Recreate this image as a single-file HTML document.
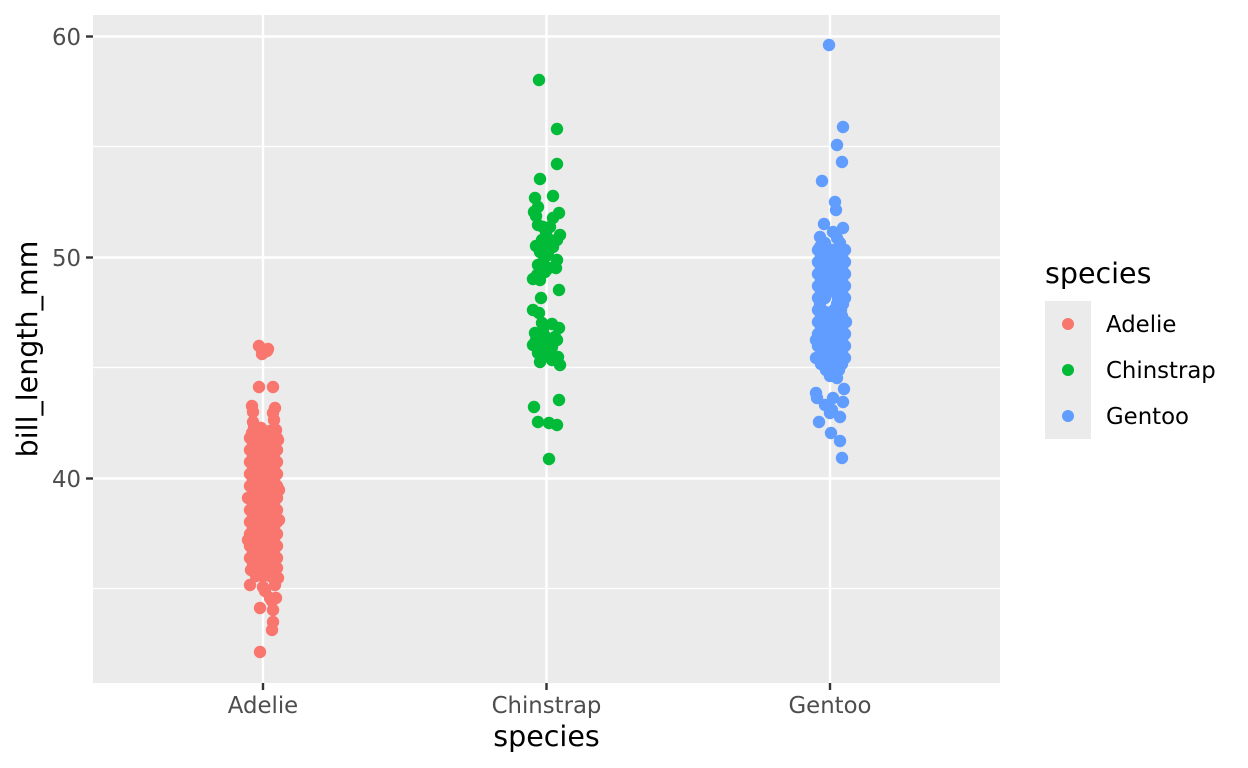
<!DOCTYPE html>
<html>
<head>
<meta charset="utf-8">
<style>
html,body{margin:0;padding:0;background:#fff;}
svg{display:block;}
text{font-family:"DejaVu Sans","Liberation Sans",sans-serif;}
</style>
</head>
<body>
<svg width="1248" height="768" viewBox="0 0 1248 768" xmlns="http://www.w3.org/2000/svg">
<rect x="0" y="0" width="1248" height="768" fill="#ffffff"/>
<!-- panel -->
<rect x="93" y="15" width="907" height="668" fill="#EBEBEB"/>
<!-- minor grid -->
<g stroke="#ffffff" stroke-width="1.2">
<line x1="93" y1="146.5" x2="1000" y2="146.5"/>
<line x1="93" y1="367.5" x2="1000" y2="367.5"/>
<line x1="93" y1="588.5" x2="1000" y2="588.5"/>
</g>
<!-- major grid -->
<g stroke="#ffffff" stroke-width="2.4">
<line x1="93" y1="36.5" x2="1000" y2="36.5"/>
<line x1="93" y1="257.5" x2="1000" y2="257.5"/>
<line x1="93" y1="478.5" x2="1000" y2="478.5"/>
<line x1="263" y1="15" x2="263" y2="683"/>
<line x1="546.5" y1="15" x2="546.5" y2="683"/>
<line x1="830" y1="15" x2="830" y2="683"/>
</g>

<!-- Adelie -->
<g fill="#F8766D">
<circle cx="259" cy="346" r="6.2"/><circle cx="267" cy="351" r="6.2"/><circle cx="262" cy="354" r="6.2"/><circle cx="268" cy="349" r="6.2"/>
<circle cx="259" cy="387" r="6.2"/><circle cx="273" cy="387" r="6.2"/>
<circle cx="252" cy="406" r="6.2"/><circle cx="253" cy="412" r="6.2"/><circle cx="275" cy="408" r="6.2"/><circle cx="273" cy="413" r="6.2"/>
<circle cx="253" cy="422" r="6.2"/><circle cx="274" cy="420" r="6.2"/>
<circle cx="254" cy="428" r="6.2"/><circle cx="261" cy="428" r="6.2"/><circle cx="270" cy="431" r="6.2"/><circle cx="276" cy="430" r="6.2"/>
<circle cx="252" cy="433" r="6.2"/><circle cx="258" cy="433" r="6.2"/><circle cx="265" cy="433" r="6.2"/><circle cx="272" cy="433" r="6.2"/><circle cx="278" cy="440" r="6.2"/>
<!-- core rows -->
<circle cx="250" cy="438" r="6.2"/><circle cx="257" cy="438" r="6.2"/><circle cx="264" cy="438" r="6.2"/><circle cx="271" cy="438" r="6.2"/><circle cx="277" cy="438" r="6.2"/>
<circle cx="253" cy="444" r="6.2"/><circle cx="260" cy="444" r="6.2"/><circle cx="267" cy="444" r="6.2"/><circle cx="274" cy="444" r="6.2"/>
<circle cx="250" cy="450" r="6.2"/><circle cx="257" cy="450" r="6.2"/><circle cx="264" cy="450" r="6.2"/><circle cx="271" cy="450" r="6.2"/><circle cx="277" cy="450" r="6.2"/>
<circle cx="253" cy="456" r="6.2"/><circle cx="260" cy="456" r="6.2"/><circle cx="267" cy="456" r="6.2"/><circle cx="274" cy="456" r="6.2"/>
<circle cx="250" cy="462" r="6.2"/><circle cx="257" cy="462" r="6.2"/><circle cx="264" cy="462" r="6.2"/><circle cx="271" cy="462" r="6.2"/><circle cx="277" cy="462" r="6.2"/>
<circle cx="253" cy="468" r="6.2"/><circle cx="260" cy="468" r="6.2"/><circle cx="267" cy="468" r="6.2"/><circle cx="274" cy="468" r="6.2"/>
<circle cx="250" cy="474" r="6.2"/><circle cx="257" cy="474" r="6.2"/><circle cx="264" cy="474" r="6.2"/><circle cx="271" cy="474" r="6.2"/><circle cx="277" cy="474" r="6.2"/>
<circle cx="253" cy="480" r="6.2"/><circle cx="260" cy="480" r="6.2"/><circle cx="267" cy="480" r="6.2"/><circle cx="274" cy="480" r="6.2"/>
<circle cx="250" cy="486" r="6.2"/><circle cx="257" cy="486" r="6.2"/><circle cx="264" cy="486" r="6.2"/><circle cx="271" cy="486" r="6.2"/><circle cx="277" cy="486" r="6.2"/>
<circle cx="253" cy="492" r="6.2"/><circle cx="260" cy="492" r="6.2"/><circle cx="267" cy="492" r="6.2"/><circle cx="274" cy="492" r="6.2"/><circle cx="279" cy="490" r="6.2"/>
<circle cx="250" cy="498" r="6.2"/><circle cx="257" cy="498" r="6.2"/><circle cx="264" cy="498" r="6.2"/><circle cx="271" cy="498" r="6.2"/><circle cx="277" cy="498" r="6.2"/><circle cx="248" cy="498" r="6.2"/>
<circle cx="253" cy="504" r="6.2"/><circle cx="260" cy="504" r="6.2"/><circle cx="267" cy="504" r="6.2"/><circle cx="274" cy="504" r="6.2"/>
<circle cx="250" cy="510" r="6.2"/><circle cx="257" cy="510" r="6.2"/><circle cx="264" cy="510" r="6.2"/><circle cx="271" cy="510" r="6.2"/><circle cx="277" cy="510" r="6.2"/>
<circle cx="253" cy="516" r="6.2"/><circle cx="260" cy="516" r="6.2"/><circle cx="267" cy="516" r="6.2"/><circle cx="274" cy="516" r="6.2"/><circle cx="279" cy="520" r="6.2"/>
<circle cx="250" cy="522" r="6.2"/><circle cx="257" cy="522" r="6.2"/><circle cx="264" cy="522" r="6.2"/><circle cx="271" cy="522" r="6.2"/><circle cx="277" cy="522" r="6.2"/>
<circle cx="253" cy="528" r="6.2"/><circle cx="260" cy="528" r="6.2"/><circle cx="267" cy="528" r="6.2"/><circle cx="274" cy="528" r="6.2"/>
<circle cx="250" cy="534" r="6.2"/><circle cx="257" cy="534" r="6.2"/><circle cx="264" cy="534" r="6.2"/><circle cx="271" cy="534" r="6.2"/><circle cx="277" cy="534" r="6.2"/>
<circle cx="253" cy="540" r="6.2"/><circle cx="260" cy="540" r="6.2"/><circle cx="267" cy="540" r="6.2"/><circle cx="274" cy="540" r="6.2"/><circle cx="248" cy="540" r="6.2"/>
<circle cx="250" cy="546" r="6.2"/><circle cx="257" cy="546" r="6.2"/><circle cx="264" cy="546" r="6.2"/><circle cx="271" cy="546" r="6.2"/><circle cx="277" cy="546" r="6.2"/>
<circle cx="253" cy="552" r="6.2"/><circle cx="260" cy="552" r="6.2"/><circle cx="267" cy="552" r="6.2"/><circle cx="274" cy="552" r="6.2"/>
<circle cx="250" cy="558" r="6.2"/><circle cx="257" cy="558" r="6.2"/><circle cx="264" cy="558" r="6.2"/><circle cx="271" cy="558" r="6.2"/><circle cx="277" cy="558" r="6.2"/>
<circle cx="253" cy="564" r="6.2"/><circle cx="260" cy="564" r="6.2"/><circle cx="267" cy="564" r="6.2"/><circle cx="274" cy="564" r="6.2"/>
<circle cx="251" cy="570" r="6.2"/><circle cx="258" cy="570" r="6.2"/><circle cx="265" cy="570" r="6.2"/><circle cx="272" cy="570" r="6.2"/><circle cx="277" cy="568" r="6.2"/>
<circle cx="256" cy="576" r="6.2"/><circle cx="263" cy="576" r="6.2"/><circle cx="270" cy="576" r="6.2"/><circle cx="278" cy="578" r="6.2"/>
<!-- bottom sparse -->
<circle cx="250" cy="585" r="6.2"/><circle cx="263" cy="587" r="6.2"/><circle cx="275" cy="585" r="6.2"/><circle cx="265" cy="591" r="6.2"/>
<circle cx="270" cy="598" r="6.2"/><circle cx="276" cy="598" r="6.2"/><circle cx="272" cy="601" r="6.2"/>
<circle cx="260" cy="608" r="6.2"/><circle cx="273" cy="610" r="6.2"/><circle cx="273" cy="622" r="6.2"/><circle cx="272" cy="630" r="6.2"/>
<circle cx="260" cy="652" r="6.2"/>
</g>

<!-- Chinstrap -->
<g fill="#00BA38">
<circle cx="539" cy="80" r="6.2"/><circle cx="557" cy="129" r="6.2"/><circle cx="557" cy="164" r="6.2"/><circle cx="540" cy="179" r="6.2"/>
<circle cx="535" cy="198" r="6.2"/><circle cx="553" cy="196" r="6.2"/><circle cx="534" cy="212" r="6.2"/><circle cx="538" cy="207" r="6.2"/>
<circle cx="559" cy="213" r="6.2"/><circle cx="553" cy="218" r="6.2"/><circle cx="536" cy="216" r="6.2"/>
<circle cx="538" cy="225" r="6.2"/><circle cx="543" cy="227" r="6.2"/><circle cx="550" cy="227" r="6.2"/><circle cx="546" cy="232" r="6.2"/><circle cx="560" cy="235" r="6.2"/>
<circle cx="542" cy="240" r="6.2"/><circle cx="550" cy="240" r="6.2"/><circle cx="557" cy="240" r="6.2"/><circle cx="545" cy="245" r="6.2"/><circle cx="536" cy="246" r="6.2"/><circle cx="553" cy="247" r="6.2"/>
<circle cx="540" cy="252" r="6.2"/><circle cx="548" cy="255" r="6.2"/><circle cx="557" cy="260" r="6.2"/><circle cx="543" cy="262" r="6.2"/><circle cx="538" cy="265" r="6.2"/>
<circle cx="556" cy="268" r="6.2"/><circle cx="549" cy="268" r="6.2"/><circle cx="545" cy="272" r="6.2"/><circle cx="537" cy="275" r="6.2"/><circle cx="533" cy="279" r="6.2"/><circle cx="540" cy="280" r="6.2"/>
<circle cx="559" cy="290" r="6.2"/><circle cx="541" cy="298" r="6.2"/><circle cx="533" cy="310" r="6.2"/><circle cx="539" cy="313" r="6.2"/>
<circle cx="542" cy="323" r="6.2"/><circle cx="552" cy="324" r="6.2"/><circle cx="544" cy="326" r="6.2"/><circle cx="559" cy="328" r="6.2"/>
<circle cx="535" cy="333" r="6.2"/><circle cx="543" cy="332" r="6.2"/><circle cx="555" cy="337" r="6.2"/><circle cx="547" cy="338" r="6.2"/><circle cx="536" cy="340" r="6.2"/><circle cx="557" cy="340" r="6.2"/>
<circle cx="533" cy="345" r="6.2"/><circle cx="542" cy="343" r="6.2"/><circle cx="552" cy="347" r="6.2"/><circle cx="548" cy="350" r="6.2"/><circle cx="538" cy="353" r="6.2"/>
<circle cx="546" cy="356" r="6.2"/><circle cx="558" cy="357" r="6.2"/><circle cx="552" cy="360" r="6.2"/><circle cx="540" cy="362" r="6.2"/><circle cx="560" cy="365" r="6.2"/>
<circle cx="559" cy="400" r="6.2"/><circle cx="534" cy="407" r="6.2"/>
<circle cx="538" cy="422" r="6.2"/><circle cx="549" cy="423" r="6.2"/><circle cx="557" cy="425" r="6.2"/>
<circle cx="549" cy="459" r="6.2"/>
</g>

<!-- Gentoo -->
<g fill="#619CFF">
<circle cx="829" cy="45" r="6.2"/><circle cx="843" cy="127" r="6.2"/><circle cx="837" cy="145" r="6.2"/><circle cx="842" cy="162" r="6.2"/>
<circle cx="822" cy="181" r="6.2"/><circle cx="835" cy="202" r="6.2"/><circle cx="836" cy="210" r="6.2"/>
<circle cx="824" cy="224" r="6.2"/><circle cx="843" cy="228" r="6.2"/><circle cx="833" cy="232" r="6.2"/><circle cx="820" cy="237" r="6.2"/><circle cx="837" cy="238" r="6.2"/>
<circle cx="825" cy="243" r="6.2"/><circle cx="840" cy="243" r="6.2"/><circle cx="820" cy="247" r="6.2"/>
<!-- core -->
<circle cx="818" cy="250" r="6.2"/><circle cx="825" cy="250" r="6.2"/><circle cx="832" cy="250" r="6.2"/><circle cx="839" cy="250" r="6.2"/><circle cx="845" cy="250" r="6.2"/>
<circle cx="821" cy="256" r="6.2"/><circle cx="828" cy="256" r="6.2"/><circle cx="835" cy="256" r="6.2"/><circle cx="842" cy="256" r="6.2"/>
<circle cx="818" cy="262" r="6.2"/><circle cx="825" cy="262" r="6.2"/><circle cx="832" cy="262" r="6.2"/><circle cx="839" cy="262" r="6.2"/><circle cx="845" cy="262" r="6.2"/>
<circle cx="821" cy="268" r="6.2"/><circle cx="828" cy="268" r="6.2"/><circle cx="835" cy="268" r="6.2"/><circle cx="842" cy="268" r="6.2"/>
<circle cx="818" cy="274" r="6.2"/><circle cx="825" cy="274" r="6.2"/><circle cx="832" cy="274" r="6.2"/><circle cx="839" cy="274" r="6.2"/><circle cx="845" cy="274" r="6.2"/>
<circle cx="821" cy="280" r="6.2"/><circle cx="828" cy="280" r="6.2"/><circle cx="835" cy="280" r="6.2"/><circle cx="842" cy="280" r="6.2"/>
<circle cx="818" cy="286" r="6.2"/><circle cx="825" cy="286" r="6.2"/><circle cx="832" cy="286" r="6.2"/><circle cx="839" cy="286" r="6.2"/><circle cx="845" cy="286" r="6.2"/>
<circle cx="821" cy="292" r="6.2"/><circle cx="828" cy="292" r="6.2"/><circle cx="835" cy="292" r="6.2"/><circle cx="842" cy="292" r="6.2"/>
<circle cx="818" cy="298" r="6.2"/><circle cx="825" cy="298" r="6.2"/><circle cx="838" cy="298" r="6.2"/><circle cx="845" cy="298" r="6.2"/>
<circle cx="820" cy="304" r="6.2"/><circle cx="837" cy="304" r="6.2"/><circle cx="843" cy="304" r="6.2"/>
<circle cx="818" cy="310" r="6.2"/><circle cx="825" cy="312" r="6.2"/><circle cx="834" cy="310" r="6.2"/><circle cx="841" cy="310" r="6.2"/>
<circle cx="821" cy="316" r="6.2"/><circle cx="828" cy="316" r="6.2"/><circle cx="835" cy="316" r="6.2"/><circle cx="842" cy="316" r="6.2"/>
<circle cx="818" cy="322" r="6.2"/><circle cx="825" cy="322" r="6.2"/><circle cx="832" cy="322" r="6.2"/><circle cx="839" cy="322" r="6.2"/><circle cx="846" cy="322" r="6.2"/>
<circle cx="821" cy="328" r="6.2"/><circle cx="828" cy="328" r="6.2"/><circle cx="835" cy="328" r="6.2"/><circle cx="842" cy="328" r="6.2"/>
<circle cx="818" cy="334" r="6.2"/><circle cx="825" cy="334" r="6.2"/><circle cx="832" cy="334" r="6.2"/><circle cx="839" cy="334" r="6.2"/><circle cx="845" cy="334" r="6.2"/>
<circle cx="816" cy="340" r="6.2"/><circle cx="828" cy="340" r="6.2"/><circle cx="835" cy="340" r="6.2"/><circle cx="842" cy="340" r="6.2"/>
<circle cx="818" cy="346" r="6.2"/><circle cx="825" cy="346" r="6.2"/><circle cx="832" cy="346" r="6.2"/><circle cx="839" cy="346" r="6.2"/><circle cx="845" cy="346" r="6.2"/>
<circle cx="821" cy="352" r="6.2"/><circle cx="828" cy="352" r="6.2"/><circle cx="835" cy="352" r="6.2"/><circle cx="842" cy="352" r="6.2"/>
<circle cx="816" cy="358" r="6.2"/><circle cx="825" cy="358" r="6.2"/><circle cx="832" cy="358" r="6.2"/><circle cx="839" cy="358" r="6.2"/><circle cx="845" cy="358" r="6.2"/>
<circle cx="821" cy="364" r="6.2"/><circle cx="828" cy="364" r="6.2"/><circle cx="835" cy="364" r="6.2"/><circle cx="842" cy="364" r="6.2"/>
<circle cx="826" cy="370" r="6.2"/><circle cx="832" cy="370" r="6.2"/><circle cx="839" cy="370" r="6.2"/>
<circle cx="830" cy="376" r="6.2"/><circle cx="837" cy="378" r="6.2"/>
<!-- lower sparse -->
<circle cx="844" cy="389" r="6.2"/><circle cx="816" cy="393" r="6.2"/><circle cx="817" cy="398" r="6.2"/><circle cx="833" cy="398" r="6.2"/>
<circle cx="843" cy="402" r="6.2"/><circle cx="825" cy="405" r="6.2"/><circle cx="832" cy="410" r="6.2"/><circle cx="830" cy="413" r="6.2"/>
<circle cx="840" cy="417" r="6.2"/><circle cx="819" cy="422" r="6.2"/><circle cx="831" cy="433" r="6.2"/><circle cx="840" cy="441" r="6.2"/>
<circle cx="842" cy="458" r="6.2"/>
</g>

<!-- axis ticks -->
<g stroke="#333333" stroke-width="2.4">
<line x1="86" y1="36.5" x2="93" y2="36.5"/>
<line x1="86" y1="257.5" x2="93" y2="257.5"/>
<line x1="86" y1="478.5" x2="93" y2="478.5"/>
<line x1="263" y1="683" x2="263" y2="690"/>
<line x1="546.5" y1="683" x2="546.5" y2="690"/>
<line x1="830" y1="683" x2="830" y2="690"/>
</g>
<!-- tick labels -->
<g fill="#4D4D4D" font-size="22.8">
<text x="81" y="44.8" text-anchor="end">60</text>
<text x="81" y="265.8" text-anchor="end">50</text>
<text x="81" y="486.8" text-anchor="end">40</text>
<text x="263" y="713" text-anchor="middle">Adelie</text>
<text x="546.5" y="713" text-anchor="middle">Chinstrap</text>
<text x="830" y="713" text-anchor="middle">Gentoo</text>
</g>
<!-- axis titles -->
<text x="546.5" y="746" text-anchor="middle" font-size="28.5" fill="#000">species</text>
<text transform="translate(37,349) rotate(-90)" x="0" y="0" text-anchor="middle" font-size="28.5" fill="#000">bill_length_mm</text>

<!-- legend -->
<text x="1045" y="283" font-size="28.5" fill="#000">species</text>
<rect x="1045" y="301" width="46" height="138" fill="#EBEBEB"/>
<circle cx="1068" cy="324" r="6" fill="#F8766D"/>
<circle cx="1068" cy="370" r="6" fill="#00BA38"/>
<circle cx="1068" cy="416" r="6" fill="#619CFF"/>
<g fill="#000" font-size="22.8">
<text x="1106" y="332">Adelie</text>
<text x="1106" y="378">Chinstrap</text>
<text x="1106" y="424">Gentoo</text>
</g>
</svg>
</body>
</html>
